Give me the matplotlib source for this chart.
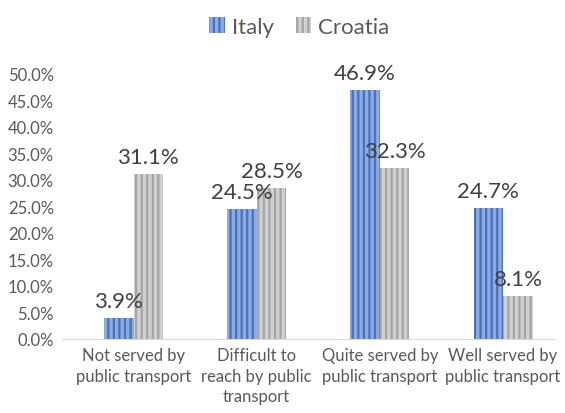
import matplotlib.pyplot as plt
import numpy as np

categories = ["Not served by\npublic transport",
              "Difficult to\nreach by public\ntransport",
              "Quite served by\npublic transport",
              "Well served by\npublic transport"]
italy = [3.9, 24.5, 46.9, 24.7]
croatia = [31.1, 28.5, 32.3, 8.1]

plt.rcParams["font.family"] = ["Lato", "DejaVu Sans"]
plt.rcParams["hatch.linewidth"] = 1.6

fig = plt.figure(figsize=(5.65, 4.14), dpi=100)
ax = fig.add_axes([0.11, 0.179, 0.872, 0.64])

x = np.arange(len(categories))
w = 0.24
b1 = ax.bar(x - w / 2, italy, w, color="#8FAADC", edgecolor="#4472C4",
            hatch="|||", linewidth=0, label="Italy")
b2 = ax.bar(x + w / 2, croatia, w, color="#D0D0D0", edgecolor="#A5A5A5",
            hatch="|||", linewidth=0, label="Croatia")

for bars, vals in ((b1, italy), (b2, croatia)):
    for bar, v in zip(bars, vals):
        ax.annotate(f"{v:.1f}%", (bar.get_x() + bar.get_width() / 2, v),
                    xytext=(0, 5), textcoords="offset points",
                    ha="center", va="bottom", fontsize=16, color="#404040")

ax.set_ylim(0, 50)
ax.set_xlim(-0.58, 3.42)
ax.set_yticks(np.arange(0, 51, 5))
ax.set_yticklabels([f"{t:.1f}%" for t in np.arange(0, 51, 5)])
ax.set_xticks(x)
ax.set_xticklabels(categories, linespacing=1.35)
ax.tick_params(length=0, labelsize=12, colors="#595959")
ax.tick_params(axis="x", pad=6)
ax.tick_params(axis="y", pad=6)
for s in ("top", "right", "left"):
    ax.spines[s].set_visible(False)
ax.spines["bottom"].set_color("#D9D9D9")

fig.legend(handles=[b1, b2], loc="upper center", bbox_to_anchor=(0.53, 1.005),
           ncol=2, frameon=False, fontsize=16, handlelength=0.7,
           handleheight=0.7, columnspacing=1.0, handletextpad=0.3,
           labelcolor="#595959")

fig.savefig("out.png", dpi=100)
